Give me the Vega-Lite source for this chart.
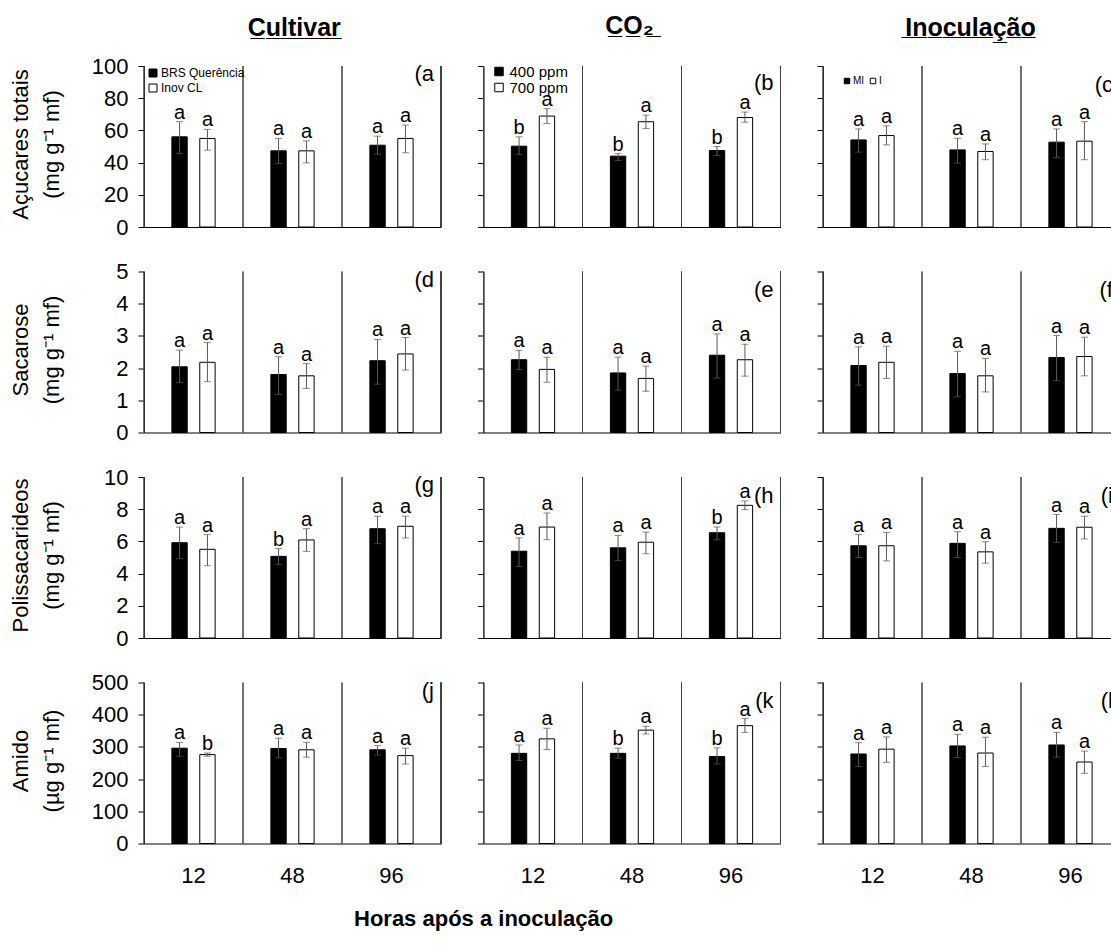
{
  "$schema": "https://vega.github.io/schema/vega-lite/v6.json",
  "padding": {"left": 9, "top": 14, "right": 0, "bottom": 5},
  "config": {
    "font": "Liberation Sans",
    "view": {"stroke": null},
    "axis": {"grid": false, "domainColor": "#000", "tickColor": "#000", "labelColor": "#000", "titleColor": "#000", "labelFont": "Liberation Sans", "titleFont": "Liberation Sans", "titleFontWeight": "normal"},
    "axisY": {"tickSize": 6, "tickCount": 10, "labelFontSize": 22, "labelPadding": 10, "labelOverlap": false, "titleFontSize": 22, "titleLineHeight": 31, "titleX": -117, "titleY": 78, "titleBaseline": "alphabetic", "titleAlign": "center"},
    "axisX": {"ticks": false, "tickSize": 0, "labelFontSize": 22, "labelPadding": 22, "labelAngle": 0},
    "title": {"font": "Liberation Sans", "color": "#000"},
    "legend": {"labelFont": "Liberation Sans", "labelColor": "#000"}
  },
  "data": {"values": [
    {"v":"acu","f":"cult","t":"12","g":"BRS Querência","m":56.0,"lo":45.6,"hi":65.4,"l":"a"},
    {"v":"acu","f":"cult","t":"12","g":"Inov CL","m":55.0,"lo":47.7,"hi":60.6,"l":"a"},
    {"v":"acu","f":"cult","t":"48","g":"BRS Querência","m":47.3,"lo":39.4,"hi":55.0,"l":"a"},
    {"v":"acu","f":"cult","t":"48","g":"Inov CL","m":47.3,"lo":39.8,"hi":53.5,"l":"a"},
    {"v":"acu","f":"cult","t":"96","g":"BRS Querência","m":50.8,"lo":45.2,"hi":56.4,"l":"a"},
    {"v":"acu","f":"cult","t":"96","g":"Inov CL","m":55.0,"lo":46.1,"hi":63.3,"l":"a"},
    {"v":"acu","f":"co2","t":"12","g":"400 ppm","m":50.2,"lo":45.0,"hi":56.0,"l":"b"},
    {"v":"acu","f":"co2","t":"12","g":"700 ppm","m":68.9,"lo":64.3,"hi":73.4,"l":"a"},
    {"v":"acu","f":"co2","t":"48","g":"400 ppm","m":44.0,"lo":41.3,"hi":45.6,"l":"b"},
    {"v":"acu","f":"co2","t":"48","g":"700 ppm","m":65.4,"lo":61.2,"hi":69.5,"l":"a"},
    {"v":"acu","f":"co2","t":"96","g":"400 ppm","m":47.5,"lo":44.4,"hi":50.0,"l":"b"},
    {"v":"acu","f":"co2","t":"96","g":"700 ppm","m":68.0,"lo":65.1,"hi":71.4,"l":"a"},
    {"v":"acu","f":"inoc","t":"12","g":"MI","m":54.1,"lo":46.5,"hi":60.9,"l":"a"},
    {"v":"acu","f":"inoc","t":"12","g":"I","m":56.8,"lo":51.0,"hi":62.8,"l":"a"},
    {"v":"acu","f":"inoc","t":"48","g":"MI","m":47.9,"lo":39.7,"hi":55.1,"l":"a"},
    {"v":"acu","f":"inoc","t":"48","g":"I","m":46.9,"lo":41.8,"hi":51.6,"l":"a"},
    {"v":"acu","f":"inoc","t":"96","g":"MI","m":52.7,"lo":43.2,"hi":60.9,"l":"a"},
    {"v":"acu","f":"inoc","t":"96","g":"I","m":53.3,"lo":41.8,"hi":65.4,"l":"a"},
    {"v":"sac","f":"cult","t":"12","g":"BRS Querência","m":2.04,"lo":1.55,"hi":2.56,"l":"a"},
    {"v":"sac","f":"cult","t":"12","g":"Inov CL","m":2.18,"lo":1.58,"hi":2.79,"l":"a"},
    {"v":"sac","f":"cult","t":"48","g":"BRS Querência","m":1.80,"lo":1.18,"hi":2.35,"l":"a"},
    {"v":"sac","f":"cult","t":"48","g":"Inov CL","m":1.76,"lo":1.37,"hi":2.14,"l":"a"},
    {"v":"sac","f":"cult","t":"96","g":"BRS Querência","m":2.23,"lo":1.50,"hi":2.89,"l":"a"},
    {"v":"sac","f":"cult","t":"96","g":"Inov CL","m":2.44,"lo":1.94,"hi":2.95,"l":"a"},
    {"v":"sac","f":"co2","t":"12","g":"400 ppm","m":2.26,"lo":1.96,"hi":2.55,"l":"a"},
    {"v":"sac","f":"co2","t":"12","g":"700 ppm","m":1.96,"lo":1.56,"hi":2.34,"l":"a"},
    {"v":"sac","f":"co2","t":"48","g":"400 ppm","m":1.85,"lo":1.32,"hi":2.34,"l":"a"},
    {"v":"sac","f":"co2","t":"48","g":"700 ppm","m":1.68,"lo":1.28,"hi":2.06,"l":"a"},
    {"v":"sac","f":"co2","t":"96","g":"400 ppm","m":2.40,"lo":1.69,"hi":3.06,"l":"a"},
    {"v":"sac","f":"co2","t":"96","g":"700 ppm","m":2.26,"lo":1.75,"hi":2.74,"l":"a"},
    {"v":"sac","f":"inoc","t":"12","g":"MI","m":2.08,"lo":1.47,"hi":2.66,"l":"a"},
    {"v":"sac","f":"inoc","t":"12","g":"I","m":2.18,"lo":1.68,"hi":2.68,"l":"a"},
    {"v":"sac","f":"inoc","t":"48","g":"MI","m":1.83,"lo":1.11,"hi":2.52,"l":"a"},
    {"v":"sac","f":"inoc","t":"48","g":"I","m":1.76,"lo":1.26,"hi":2.30,"l":"a"},
    {"v":"sac","f":"inoc","t":"96","g":"MI","m":2.33,"lo":1.61,"hi":3.01,"l":"a"},
    {"v":"sac","f":"inoc","t":"96","g":"I","m":2.36,"lo":1.76,"hi":2.96,"l":"a"},
    {"v":"pol","f":"cult","t":"12","g":"BRS Querência","m":5.92,"lo":4.93,"hi":6.89,"l":"a"},
    {"v":"pol","f":"cult","t":"12","g":"Inov CL","m":5.51,"lo":4.49,"hi":6.42,"l":"a"},
    {"v":"pol","f":"cult","t":"48","g":"BRS Querência","m":5.07,"lo":4.58,"hi":5.55,"l":"b"},
    {"v":"pol","f":"cult","t":"48","g":"Inov CL","m":6.09,"lo":5.38,"hi":6.79,"l":"a"},
    {"v":"pol","f":"cult","t":"96","g":"BRS Querência","m":6.79,"lo":5.86,"hi":7.56,"l":"a"},
    {"v":"pol","f":"cult","t":"96","g":"Inov CL","m":6.94,"lo":6.21,"hi":7.56,"l":"a"},
    {"v":"pol","f":"co2","t":"12","g":"400 ppm","m":5.39,"lo":4.44,"hi":6.22,"l":"a"},
    {"v":"pol","f":"co2","t":"12","g":"700 ppm","m":6.89,"lo":6.10,"hi":7.76,"l":"a"},
    {"v":"pol","f":"co2","t":"48","g":"400 ppm","m":5.60,"lo":4.81,"hi":6.37,"l":"a"},
    {"v":"pol","f":"co2","t":"48","g":"700 ppm","m":5.95,"lo":5.23,"hi":6.58,"l":"a"},
    {"v":"pol","f":"co2","t":"96","g":"400 ppm","m":6.54,"lo":6.10,"hi":6.89,"l":"b"},
    {"v":"pol","f":"co2","t":"96","g":"700 ppm","m":8.24,"lo":7.97,"hi":8.51,"l":"a"},
    {"v":"pol","f":"inoc","t":"12","g":"MI","m":5.73,"lo":5.00,"hi":6.42,"l":"a"},
    {"v":"pol","f":"inoc","t":"12","g":"I","m":5.73,"lo":4.79,"hi":6.56,"l":"a"},
    {"v":"pol","f":"inoc","t":"48","g":"MI","m":5.88,"lo":5.00,"hi":6.60,"l":"a"},
    {"v":"pol","f":"inoc","t":"48","g":"I","m":5.35,"lo":4.65,"hi":5.98,"l":"a"},
    {"v":"pol","f":"inoc","t":"96","g":"MI","m":6.81,"lo":5.94,"hi":7.67,"l":"a"},
    {"v":"pol","f":"inoc","t":"96","g":"I","m":6.88,"lo":6.15,"hi":7.56,"l":"a"},
    {"v":"ami","f":"cult","t":"12","g":"BRS Querência","m":296,"lo":271,"hi":314,"l":"a"},
    {"v":"ami","f":"cult","t":"12","g":"Inov CL","m":276,"lo":271,"hi":281,"l":"b"},
    {"v":"ami","f":"cult","t":"48","g":"BRS Querência","m":295,"lo":266,"hi":327,"l":"a"},
    {"v":"ami","f":"cult","t":"48","g":"Inov CL","m":291,"lo":268,"hi":314,"l":"a"},
    {"v":"ami","f":"cult","t":"96","g":"BRS Querência","m":291,"lo":275,"hi":304,"l":"a"},
    {"v":"ami","f":"cult","t":"96","g":"Inov CL","m":273,"lo":247,"hi":296,"l":"a"},
    {"v":"ami","f":"co2","t":"12","g":"400 ppm","m":280,"lo":258,"hi":306,"l":"a"},
    {"v":"ami","f":"co2","t":"12","g":"700 ppm","m":325,"lo":292,"hi":358,"l":"a"},
    {"v":"ami","f":"co2","t":"48","g":"400 ppm","m":280,"lo":265,"hi":296,"l":"b"},
    {"v":"ami","f":"co2","t":"48","g":"700 ppm","m":352,"lo":340,"hi":364,"l":"a"},
    {"v":"ami","f":"co2","t":"96","g":"400 ppm","m":270,"lo":247,"hi":297,"l":"b"},
    {"v":"ami","f":"co2","t":"96","g":"700 ppm","m":366,"lo":345,"hi":388,"l":"a"},
    {"v":"ami","f":"inoc","t":"12","g":"MI","m":278,"lo":239,"hi":313,"l":"a"},
    {"v":"ami","f":"inoc","t":"12","g":"I","m":293,"lo":252,"hi":331,"l":"a"},
    {"v":"ami","f":"inoc","t":"48","g":"MI","m":303,"lo":267,"hi":339,"l":"a"},
    {"v":"ami","f":"inoc","t":"48","g":"I","m":281,"lo":239,"hi":330,"l":"a"},
    {"v":"ami","f":"inoc","t":"96","g":"MI","m":306,"lo":268,"hi":345,"l":"a"},
    {"v":"ami","f":"inoc","t":"96","g":"I","m":253,"lo":218,"hi":287,"l":"a"}
  ]},
  "title": {"text": "Horas após a inoculação", "orient": "bottom", "anchor": "start", "dx": 345, "offset": 22, "fontSize": 22, "fontWeight": "bold"},
  "spacing": 34.5,
  "resolve": {"scale": {"x": "independent", "y": "independent", "xOffset": "independent", "fill": "independent"}, "axis": {"x": "independent", "y": "independent"}, "legend": {"fill": "independent"}},
  "hconcat": [
    {
      "title": {"text": "C\u0332u\u0332l\u0332t\u0332i\u0332v\u0332a\u0332r\u0332", "anchor": "middle", "dx": 69, "offset": 14, "fontSize": 25, "fontWeight": "bold"},
      "spacing": 44.5,
      "bounds": "flush",
      "resolve": {"scale": {"x": "independent", "y": "independent", "xOffset": "independent", "fill": "independent"}, "axis": {"x": "independent", "y": "independent"}, "legend": {"fill": "independent"}},
      "vconcat": [
        {
          "width": 297, "height": 161,
          "title": {"text": "(a", "anchor": "end", "frame": "group", "offset": -31, "dx": -7, "fontSize": 22, "fontWeight": "normal"},
          "transform": [{"filter": "datum.v == 'acu' && datum.f == 'cult'"}],
          "encoding": {"x": {"field": "t", "type": "nominal", "scale": {"domain": ["12","48","96"], "paddingInner": 0, "paddingOuter": 0}, "axis": {"labels": false, "title": null}}},
          "layer": [
            {"mark": {"type": "rule", "color": "#404040"}, "encoding": {"x": {"field": "t", "type": "nominal", "bandPosition": 0}}},
            {"mark": {"type": "rule", "color": "#404040"}, "encoding": {"x": {"datum": "96", "bandPosition": 1}}},
            {"encoding": {"xOffset": {"field": "g", "type": "nominal", "scale": {"domain": ["BRS Querência","Inov CL"], "paddingInner": 0.45, "paddingOuter": 1.17}}},
             "layer": [
              {"mark": {"type": "bar", "stroke": "#000", "strokeWidth": 1}, "encoding": {"y": {"field": "m", "type": "quantitative", "scale": {"domain": [0,100], "nice": false}, "axis": {"values": [0,20,40,60,80,100], "format": "d", "title": ["Açucares totais", "(mg g⁻¹ mf)"]}}, "fill": {"field": "g", "type": "nominal", "scale": {"domain": ["BRS Querência","Inov CL"], "range": ["#000","#fff"]}, "legend": {"orient": "none", "legendX": 3, "legendY": 1, "title": null, "labelFontSize": 12, "symbolSize": 64, "symbolType": "square", "symbolStrokeColor": "#000", "symbolStrokeWidth": 1, "rowPadding": 3, "labelOffset": 2, "padding": 0}}}},
              {"mark": {"type": "rule", "color": "#595959"}, "encoding": {"y": {"field": "lo", "type": "quantitative"}, "y2": {"field": "hi"}}},
              {"mark": {"type": "tick", "color": "#595959", "size": 7, "thickness": 1}, "encoding": {"y": {"field": "lo", "type": "quantitative"}}},
              {"mark": {"type": "tick", "color": "#595959", "size": 7, "thickness": 1}, "encoding": {"y": {"field": "hi", "type": "quantitative"}}},
              {"mark": {"type": "text", "baseline": "alphabetic", "dy": -3, "fontSize": 20}, "encoding": {"y": {"field": "hi", "type": "quantitative"}, "text": {"field": "l"}}}
            ]}
          ]
        },
        {
          "width": 297, "height": 161,
          "title": {"text": "(d", "anchor": "end", "frame": "group", "offset": -31, "dx": -7, "fontSize": 22, "fontWeight": "normal"},
          "transform": [{"filter": "datum.v == 'sac' && datum.f == 'cult'"}],
          "encoding": {"x": {"field": "t", "type": "nominal", "scale": {"domain": ["12","48","96"], "paddingInner": 0, "paddingOuter": 0}, "axis": {"labels": false, "title": null}}},
          "layer": [
            {"mark": {"type": "rule", "color": "#404040"}, "encoding": {"x": {"field": "t", "type": "nominal", "bandPosition": 0}}},
            {"mark": {"type": "rule", "color": "#404040"}, "encoding": {"x": {"datum": "96", "bandPosition": 1}}},
            {"encoding": {"xOffset": {"field": "g", "type": "nominal", "scale": {"domain": ["BRS Querência","Inov CL"], "paddingInner": 0.45, "paddingOuter": 1.17}}},
             "layer": [
              {"mark": {"type": "bar", "stroke": "#000", "strokeWidth": 1}, "encoding": {"y": {"field": "m", "type": "quantitative", "scale": {"domain": [0,5], "nice": false}, "axis": {"values": [0,1,2,3,4,5], "format": "d", "title": ["Sacarose", "(mg g⁻¹ mf)"]}}, "fill": {"field": "g", "type": "nominal", "scale": {"domain": ["BRS Querência","Inov CL"], "range": ["#000","#fff"]}, "legend": null}}},
              {"mark": {"type": "rule", "color": "#595959"}, "encoding": {"y": {"field": "lo", "type": "quantitative"}, "y2": {"field": "hi"}}},
              {"mark": {"type": "tick", "color": "#595959", "size": 7, "thickness": 1}, "encoding": {"y": {"field": "lo", "type": "quantitative"}}},
              {"mark": {"type": "tick", "color": "#595959", "size": 7, "thickness": 1}, "encoding": {"y": {"field": "hi", "type": "quantitative"}}},
              {"mark": {"type": "text", "baseline": "alphabetic", "dy": -3, "fontSize": 20}, "encoding": {"y": {"field": "hi", "type": "quantitative"}, "text": {"field": "l"}}}
            ]}
          ]
        },
        {
          "width": 297, "height": 161,
          "title": {"text": "(g", "anchor": "end", "frame": "group", "offset": -31, "dx": -7, "fontSize": 22, "fontWeight": "normal"},
          "transform": [{"filter": "datum.v == 'pol' && datum.f == 'cult'"}],
          "encoding": {"x": {"field": "t", "type": "nominal", "scale": {"domain": ["12","48","96"], "paddingInner": 0, "paddingOuter": 0}, "axis": {"labels": false, "title": null}}},
          "layer": [
            {"mark": {"type": "rule", "color": "#404040"}, "encoding": {"x": {"field": "t", "type": "nominal", "bandPosition": 0}}},
            {"mark": {"type": "rule", "color": "#404040"}, "encoding": {"x": {"datum": "96", "bandPosition": 1}}},
            {"encoding": {"xOffset": {"field": "g", "type": "nominal", "scale": {"domain": ["BRS Querência","Inov CL"], "paddingInner": 0.45, "paddingOuter": 1.17}}},
             "layer": [
              {"mark": {"type": "bar", "stroke": "#000", "strokeWidth": 1}, "encoding": {"y": {"field": "m", "type": "quantitative", "scale": {"domain": [0,10], "nice": false}, "axis": {"values": [0,2,4,6,8,10], "format": "d", "title": ["Polissacarideos", "(mg g⁻¹ mf)"]}}, "fill": {"field": "g", "type": "nominal", "scale": {"domain": ["BRS Querência","Inov CL"], "range": ["#000","#fff"]}, "legend": null}}},
              {"mark": {"type": "rule", "color": "#595959"}, "encoding": {"y": {"field": "lo", "type": "quantitative"}, "y2": {"field": "hi"}}},
              {"mark": {"type": "tick", "color": "#595959", "size": 7, "thickness": 1}, "encoding": {"y": {"field": "lo", "type": "quantitative"}}},
              {"mark": {"type": "tick", "color": "#595959", "size": 7, "thickness": 1}, "encoding": {"y": {"field": "hi", "type": "quantitative"}}},
              {"mark": {"type": "text", "baseline": "alphabetic", "dy": -3, "fontSize": 20}, "encoding": {"y": {"field": "hi", "type": "quantitative"}, "text": {"field": "l"}}}
            ]}
          ]
        },
        {
          "width": 297, "height": 161,
          "title": {"text": "(j", "anchor": "end", "frame": "group", "offset": -31, "dx": -7, "fontSize": 22, "fontWeight": "normal"},
          "transform": [{"filter": "datum.v == 'ami' && datum.f == 'cult'"}],
          "encoding": {"x": {"field": "t", "type": "nominal", "scale": {"domain": ["12","48","96"], "paddingInner": 0, "paddingOuter": 0}, "axis": {"labels": true, "title": null}}},
          "layer": [
            {"mark": {"type": "rule", "color": "#404040"}, "encoding": {"x": {"field": "t", "type": "nominal", "bandPosition": 0}}},
            {"mark": {"type": "rule", "color": "#404040"}, "encoding": {"x": {"datum": "96", "bandPosition": 1}}},
            {"encoding": {"xOffset": {"field": "g", "type": "nominal", "scale": {"domain": ["BRS Querência","Inov CL"], "paddingInner": 0.45, "paddingOuter": 1.17}}},
             "layer": [
              {"mark": {"type": "bar", "stroke": "#000", "strokeWidth": 1}, "encoding": {"y": {"field": "m", "type": "quantitative", "scale": {"domain": [0,500], "nice": false}, "axis": {"values": [0,100,200,300,400,500], "format": "d", "title": ["Amido", "(µg g⁻¹ mf)"]}}, "fill": {"field": "g", "type": "nominal", "scale": {"domain": ["BRS Querência","Inov CL"], "range": ["#000","#fff"]}, "legend": null}}},
              {"mark": {"type": "rule", "color": "#595959"}, "encoding": {"y": {"field": "lo", "type": "quantitative"}, "y2": {"field": "hi"}}},
              {"mark": {"type": "tick", "color": "#595959", "size": 7, "thickness": 1}, "encoding": {"y": {"field": "lo", "type": "quantitative"}}},
              {"mark": {"type": "tick", "color": "#595959", "size": 7, "thickness": 1}, "encoding": {"y": {"field": "hi", "type": "quantitative"}}},
              {"mark": {"type": "text", "baseline": "alphabetic", "dy": -3, "fontSize": 20}, "encoding": {"y": {"field": "hi", "type": "quantitative"}, "text": {"field": "l"}}}
            ]}
          ]
        }
      ]
    },
    {
      "title": {"text": "C\u0332O\u0332\u2082\u0332", "anchor": "middle", "dx": 0.5, "offset": 25, "fontSize": 25, "fontWeight": "bold"},
      "spacing": 44.5,
      "bounds": "flush",
      "resolve": {"scale": {"x": "independent", "y": "independent", "xOffset": "independent", "fill": "independent"}, "axis": {"x": "independent", "y": "independent"}, "legend": {"fill": "independent"}},
      "vconcat": [
        {
          "width": 297, "height": 161,
          "title": {"text": "(b", "anchor": "end", "frame": "group", "offset": -31, "dx": -7, "fontSize": 22, "fontWeight": "normal"},
          "transform": [{"filter": "datum.v == 'acu' && datum.f == 'co2'"}],
          "encoding": {"x": {"field": "t", "type": "nominal", "scale": {"domain": ["12","48","96"], "paddingInner": 0, "paddingOuter": 0}, "axis": {"labels": false, "title": null}}},
          "layer": [
            {"mark": {"type": "rule", "color": "#404040"}, "encoding": {"x": {"field": "t", "type": "nominal", "bandPosition": 0}}},
            {"mark": {"type": "rule", "color": "#404040"}, "encoding": {"x": {"datum": "96", "bandPosition": 1}}},
            {"encoding": {"xOffset": {"field": "g", "type": "nominal", "scale": {"domain": ["400 ppm","700 ppm"], "paddingInner": 0.45, "paddingOuter": 1.17}}},
             "layer": [
              {"mark": {"type": "bar", "stroke": "#000", "strokeWidth": 1}, "encoding": {"y": {"field": "m", "type": "quantitative", "scale": {"domain": [0,100], "nice": false}, "axis": {"values": [0,20,40,60,80,100], "labels": false, "title": null}}, "fill": {"field": "g", "type": "nominal", "scale": {"domain": ["400 ppm","700 ppm"], "range": ["#000","#fff"]}, "legend": {"orient": "none", "legendX": 8, "legendY": -2, "title": null, "labelFontSize": 15, "symbolSize": 72, "symbolType": "square", "symbolStrokeColor": "#000", "symbolStrokeWidth": 1, "rowPadding": 0, "labelOffset": 3, "padding": 0}}}},
              {"mark": {"type": "rule", "color": "#595959"}, "encoding": {"y": {"field": "lo", "type": "quantitative"}, "y2": {"field": "hi"}}},
              {"mark": {"type": "tick", "color": "#595959", "size": 7, "thickness": 1}, "encoding": {"y": {"field": "lo", "type": "quantitative"}}},
              {"mark": {"type": "tick", "color": "#595959", "size": 7, "thickness": 1}, "encoding": {"y": {"field": "hi", "type": "quantitative"}}},
              {"mark": {"type": "text", "baseline": "alphabetic", "dy": -3, "fontSize": 20}, "encoding": {"y": {"field": "hi", "type": "quantitative"}, "text": {"field": "l"}}}
            ]}
          ]
        },
        {
          "width": 297, "height": 161,
          "title": {"text": "(e", "anchor": "end", "frame": "group", "offset": -31, "dx": -7, "fontSize": 22, "fontWeight": "normal"},
          "transform": [{"filter": "datum.v == 'sac' && datum.f == 'co2'"}],
          "encoding": {"x": {"field": "t", "type": "nominal", "scale": {"domain": ["12","48","96"], "paddingInner": 0, "paddingOuter": 0}, "axis": {"labels": false, "title": null}}},
          "layer": [
            {"mark": {"type": "rule", "color": "#404040"}, "encoding": {"x": {"field": "t", "type": "nominal", "bandPosition": 0}}},
            {"mark": {"type": "rule", "color": "#404040"}, "encoding": {"x": {"datum": "96", "bandPosition": 1}}},
            {"encoding": {"xOffset": {"field": "g", "type": "nominal", "scale": {"domain": ["400 ppm","700 ppm"], "paddingInner": 0.45, "paddingOuter": 1.17}}},
             "layer": [
              {"mark": {"type": "bar", "stroke": "#000", "strokeWidth": 1}, "encoding": {"y": {"field": "m", "type": "quantitative", "scale": {"domain": [0,5], "nice": false}, "axis": {"values": [0,1,2,3,4,5], "labels": false, "title": null}}, "fill": {"field": "g", "type": "nominal", "scale": {"domain": ["400 ppm","700 ppm"], "range": ["#000","#fff"]}, "legend": null}}},
              {"mark": {"type": "rule", "color": "#595959"}, "encoding": {"y": {"field": "lo", "type": "quantitative"}, "y2": {"field": "hi"}}},
              {"mark": {"type": "tick", "color": "#595959", "size": 7, "thickness": 1}, "encoding": {"y": {"field": "lo", "type": "quantitative"}}},
              {"mark": {"type": "tick", "color": "#595959", "size": 7, "thickness": 1}, "encoding": {"y": {"field": "hi", "type": "quantitative"}}},
              {"mark": {"type": "text", "baseline": "alphabetic", "dy": -3, "fontSize": 20}, "encoding": {"y": {"field": "hi", "type": "quantitative"}, "text": {"field": "l"}}}
            ]}
          ]
        },
        {
          "width": 297, "height": 161,
          "title": {"text": "(h", "anchor": "end", "frame": "group", "offset": -31, "dx": -7, "fontSize": 22, "fontWeight": "normal"},
          "transform": [{"filter": "datum.v == 'pol' && datum.f == 'co2'"}],
          "encoding": {"x": {"field": "t", "type": "nominal", "scale": {"domain": ["12","48","96"], "paddingInner": 0, "paddingOuter": 0}, "axis": {"labels": false, "title": null}}},
          "layer": [
            {"mark": {"type": "rule", "color": "#404040"}, "encoding": {"x": {"field": "t", "type": "nominal", "bandPosition": 0}}},
            {"mark": {"type": "rule", "color": "#404040"}, "encoding": {"x": {"datum": "96", "bandPosition": 1}}},
            {"encoding": {"xOffset": {"field": "g", "type": "nominal", "scale": {"domain": ["400 ppm","700 ppm"], "paddingInner": 0.45, "paddingOuter": 1.17}}},
             "layer": [
              {"mark": {"type": "bar", "stroke": "#000", "strokeWidth": 1}, "encoding": {"y": {"field": "m", "type": "quantitative", "scale": {"domain": [0,10], "nice": false}, "axis": {"values": [0,2,4,6,8,10], "labels": false, "title": null}}, "fill": {"field": "g", "type": "nominal", "scale": {"domain": ["400 ppm","700 ppm"], "range": ["#000","#fff"]}, "legend": null}}},
              {"mark": {"type": "rule", "color": "#595959"}, "encoding": {"y": {"field": "lo", "type": "quantitative"}, "y2": {"field": "hi"}}},
              {"mark": {"type": "tick", "color": "#595959", "size": 7, "thickness": 1}, "encoding": {"y": {"field": "lo", "type": "quantitative"}}},
              {"mark": {"type": "tick", "color": "#595959", "size": 7, "thickness": 1}, "encoding": {"y": {"field": "hi", "type": "quantitative"}}},
              {"mark": {"type": "text", "baseline": "alphabetic", "dy": -3, "fontSize": 20}, "encoding": {"y": {"field": "hi", "type": "quantitative"}, "text": {"field": "l"}}}
            ]}
          ]
        },
        {
          "width": 297, "height": 161,
          "title": {"text": "(k", "anchor": "end", "frame": "group", "offset": -31, "dx": -7, "fontSize": 22, "fontWeight": "normal"},
          "transform": [{"filter": "datum.v == 'ami' && datum.f == 'co2'"}],
          "encoding": {"x": {"field": "t", "type": "nominal", "scale": {"domain": ["12","48","96"], "paddingInner": 0, "paddingOuter": 0}, "axis": {"labels": true, "title": null}}},
          "layer": [
            {"mark": {"type": "rule", "color": "#404040"}, "encoding": {"x": {"field": "t", "type": "nominal", "bandPosition": 0}}},
            {"mark": {"type": "rule", "color": "#404040"}, "encoding": {"x": {"datum": "96", "bandPosition": 1}}},
            {"encoding": {"xOffset": {"field": "g", "type": "nominal", "scale": {"domain": ["400 ppm","700 ppm"], "paddingInner": 0.45, "paddingOuter": 1.17}}},
             "layer": [
              {"mark": {"type": "bar", "stroke": "#000", "strokeWidth": 1}, "encoding": {"y": {"field": "m", "type": "quantitative", "scale": {"domain": [0,500], "nice": false}, "axis": {"values": [0,100,200,300,400,500], "labels": false, "title": null}}, "fill": {"field": "g", "type": "nominal", "scale": {"domain": ["400 ppm","700 ppm"], "range": ["#000","#fff"]}, "legend": null}}},
              {"mark": {"type": "rule", "color": "#595959"}, "encoding": {"y": {"field": "lo", "type": "quantitative"}, "y2": {"field": "hi"}}},
              {"mark": {"type": "tick", "color": "#595959", "size": 7, "thickness": 1}, "encoding": {"y": {"field": "lo", "type": "quantitative"}}},
              {"mark": {"type": "tick", "color": "#595959", "size": 7, "thickness": 1}, "encoding": {"y": {"field": "hi", "type": "quantitative"}}},
              {"mark": {"type": "text", "baseline": "alphabetic", "dy": -3, "fontSize": 20}, "encoding": {"y": {"field": "hi", "type": "quantitative"}, "text": {"field": "l"}}}
            ]}
          ]
        }
      ]
    },
    {
      "title": {"text": "I\u0332n\u0332o\u0332c\u0332u\u0332l\u0332a\u0332ç\u0332ã\u0332o\u0332", "anchor": "middle", "dx": 2, "offset": 25, "fontSize": 25, "fontWeight": "bold"},
      "spacing": 44.5,
      "bounds": "flush",
      "resolve": {"scale": {"x": "independent", "y": "independent", "xOffset": "independent", "fill": "independent"}, "axis": {"x": "independent", "y": "independent"}, "legend": {"fill": "independent"}},
      "vconcat": [
        {
          "width": 297, "height": 161,
          "title": {"text": "(c", "anchor": "end", "frame": "group", "offset": -31, "dx": -7, "fontSize": 22, "fontWeight": "normal"},
          "transform": [{"filter": "datum.v == 'acu' && datum.f == 'inoc'"}],
          "encoding": {"x": {"field": "t", "type": "nominal", "scale": {"domain": ["12","48","96"], "paddingInner": 0, "paddingOuter": 0}, "axis": {"labels": false, "title": null}}},
          "layer": [
            {"mark": {"type": "rule", "color": "#404040"}, "encoding": {"x": {"field": "t", "type": "nominal", "bandPosition": 0}}},
            {"mark": {"type": "rule", "color": "#404040"}, "encoding": {"x": {"datum": "96", "bandPosition": 1}}},
            {"encoding": {"xOffset": {"field": "g", "type": "nominal", "scale": {"domain": ["MI","I"], "paddingInner": 0.45, "paddingOuter": 1.17}}},
             "layer": [
              {"mark": {"type": "bar", "stroke": "#000", "strokeWidth": 1}, "encoding": {"y": {"field": "m", "type": "quantitative", "scale": {"domain": [0,100], "nice": false}, "axis": {"values": [0,20,40,60,80,100], "labels": false, "title": null}}, "fill": {"field": "g", "type": "nominal", "scale": {"domain": ["MI","I"], "range": ["#000","#fff"]}, "legend": {"orient": "none", "direction": "horizontal", "legendX": 19, "legendY": 10, "title": null, "labelFontSize": 10, "symbolSize": 30, "symbolType": "square", "symbolStrokeColor": "#000", "symbolStrokeWidth": 1, "columnPadding": 3, "labelOffset": 1, "padding": 0}}}},
              {"mark": {"type": "rule", "color": "#595959"}, "encoding": {"y": {"field": "lo", "type": "quantitative"}, "y2": {"field": "hi"}}},
              {"mark": {"type": "tick", "color": "#595959", "size": 7, "thickness": 1}, "encoding": {"y": {"field": "lo", "type": "quantitative"}}},
              {"mark": {"type": "tick", "color": "#595959", "size": 7, "thickness": 1}, "encoding": {"y": {"field": "hi", "type": "quantitative"}}},
              {"mark": {"type": "text", "baseline": "alphabetic", "dy": -3, "fontSize": 20}, "encoding": {"y": {"field": "hi", "type": "quantitative"}, "text": {"field": "l"}}}
            ]}
          ]
        },
        {
          "width": 297, "height": 161,
          "title": {"text": "(f", "anchor": "end", "frame": "group", "offset": -31, "dx": -7, "fontSize": 22, "fontWeight": "normal"},
          "transform": [{"filter": "datum.v == 'sac' && datum.f == 'inoc'"}],
          "encoding": {"x": {"field": "t", "type": "nominal", "scale": {"domain": ["12","48","96"], "paddingInner": 0, "paddingOuter": 0}, "axis": {"labels": false, "title": null}}},
          "layer": [
            {"mark": {"type": "rule", "color": "#404040"}, "encoding": {"x": {"field": "t", "type": "nominal", "bandPosition": 0}}},
            {"mark": {"type": "rule", "color": "#404040"}, "encoding": {"x": {"datum": "96", "bandPosition": 1}}},
            {"encoding": {"xOffset": {"field": "g", "type": "nominal", "scale": {"domain": ["MI","I"], "paddingInner": 0.45, "paddingOuter": 1.17}}},
             "layer": [
              {"mark": {"type": "bar", "stroke": "#000", "strokeWidth": 1}, "encoding": {"y": {"field": "m", "type": "quantitative", "scale": {"domain": [0,5], "nice": false}, "axis": {"values": [0,1,2,3,4,5], "labels": false, "title": null}}, "fill": {"field": "g", "type": "nominal", "scale": {"domain": ["MI","I"], "range": ["#000","#fff"]}, "legend": null}}},
              {"mark": {"type": "rule", "color": "#595959"}, "encoding": {"y": {"field": "lo", "type": "quantitative"}, "y2": {"field": "hi"}}},
              {"mark": {"type": "tick", "color": "#595959", "size": 7, "thickness": 1}, "encoding": {"y": {"field": "lo", "type": "quantitative"}}},
              {"mark": {"type": "tick", "color": "#595959", "size": 7, "thickness": 1}, "encoding": {"y": {"field": "hi", "type": "quantitative"}}},
              {"mark": {"type": "text", "baseline": "alphabetic", "dy": -3, "fontSize": 20}, "encoding": {"y": {"field": "hi", "type": "quantitative"}, "text": {"field": "l"}}}
            ]}
          ]
        },
        {
          "width": 297, "height": 161,
          "title": {"text": "(i", "anchor": "end", "frame": "group", "offset": -31, "dx": -7, "fontSize": 22, "fontWeight": "normal"},
          "transform": [{"filter": "datum.v == 'pol' && datum.f == 'inoc'"}],
          "encoding": {"x": {"field": "t", "type": "nominal", "scale": {"domain": ["12","48","96"], "paddingInner": 0, "paddingOuter": 0}, "axis": {"labels": false, "title": null}}},
          "layer": [
            {"mark": {"type": "rule", "color": "#404040"}, "encoding": {"x": {"field": "t", "type": "nominal", "bandPosition": 0}}},
            {"mark": {"type": "rule", "color": "#404040"}, "encoding": {"x": {"datum": "96", "bandPosition": 1}}},
            {"encoding": {"xOffset": {"field": "g", "type": "nominal", "scale": {"domain": ["MI","I"], "paddingInner": 0.45, "paddingOuter": 1.17}}},
             "layer": [
              {"mark": {"type": "bar", "stroke": "#000", "strokeWidth": 1}, "encoding": {"y": {"field": "m", "type": "quantitative", "scale": {"domain": [0,10], "nice": false}, "axis": {"values": [0,2,4,6,8,10], "labels": false, "title": null}}, "fill": {"field": "g", "type": "nominal", "scale": {"domain": ["MI","I"], "range": ["#000","#fff"]}, "legend": null}}},
              {"mark": {"type": "rule", "color": "#595959"}, "encoding": {"y": {"field": "lo", "type": "quantitative"}, "y2": {"field": "hi"}}},
              {"mark": {"type": "tick", "color": "#595959", "size": 7, "thickness": 1}, "encoding": {"y": {"field": "lo", "type": "quantitative"}}},
              {"mark": {"type": "tick", "color": "#595959", "size": 7, "thickness": 1}, "encoding": {"y": {"field": "hi", "type": "quantitative"}}},
              {"mark": {"type": "text", "baseline": "alphabetic", "dy": -3, "fontSize": 20}, "encoding": {"y": {"field": "hi", "type": "quantitative"}, "text": {"field": "l"}}}
            ]}
          ]
        },
        {
          "width": 297, "height": 161,
          "title": {"text": "(l", "anchor": "end", "frame": "group", "offset": -31, "dx": -7, "fontSize": 22, "fontWeight": "normal"},
          "transform": [{"filter": "datum.v == 'ami' && datum.f == 'inoc'"}],
          "encoding": {"x": {"field": "t", "type": "nominal", "scale": {"domain": ["12","48","96"], "paddingInner": 0, "paddingOuter": 0}, "axis": {"labels": true, "title": null}}},
          "layer": [
            {"mark": {"type": "rule", "color": "#404040"}, "encoding": {"x": {"field": "t", "type": "nominal", "bandPosition": 0}}},
            {"mark": {"type": "rule", "color": "#404040"}, "encoding": {"x": {"datum": "96", "bandPosition": 1}}},
            {"encoding": {"xOffset": {"field": "g", "type": "nominal", "scale": {"domain": ["MI","I"], "paddingInner": 0.45, "paddingOuter": 1.17}}},
             "layer": [
              {"mark": {"type": "bar", "stroke": "#000", "strokeWidth": 1}, "encoding": {"y": {"field": "m", "type": "quantitative", "scale": {"domain": [0,500], "nice": false}, "axis": {"values": [0,100,200,300,400,500], "labels": false, "title": null}}, "fill": {"field": "g", "type": "nominal", "scale": {"domain": ["MI","I"], "range": ["#000","#fff"]}, "legend": null}}},
              {"mark": {"type": "rule", "color": "#595959"}, "encoding": {"y": {"field": "lo", "type": "quantitative"}, "y2": {"field": "hi"}}},
              {"mark": {"type": "tick", "color": "#595959", "size": 7, "thickness": 1}, "encoding": {"y": {"field": "lo", "type": "quantitative"}}},
              {"mark": {"type": "tick", "color": "#595959", "size": 7, "thickness": 1}, "encoding": {"y": {"field": "hi", "type": "quantitative"}}},
              {"mark": {"type": "text", "baseline": "alphabetic", "dy": -3, "fontSize": 20}, "encoding": {"y": {"field": "hi", "type": "quantitative"}, "text": {"field": "l"}}}
            ]}
          ]
        }
      ]
    }
  ]
}
